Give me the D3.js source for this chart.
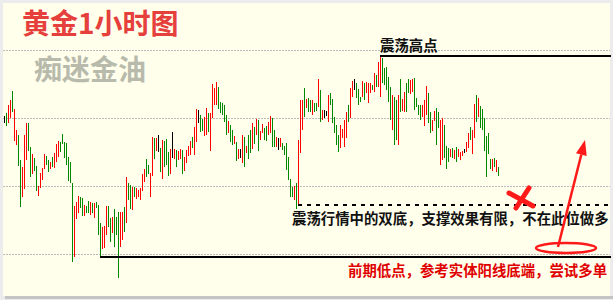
<!DOCTYPE html>
<html>
<head>
<meta charset="utf-8">
<script src="https://cdn.jsdelivr.net/npm/d3@7"></script>
<style>
  html, body { margin: 0; padding: 0; background: #ececec; }
  svg { display: block; }
  text { font-family: "Noto Sans CJK SC", "Noto Sans", sans-serif; }
</style>
</head>
<body>
<svg id="chart" width="613" height="300"></svg>
<script>
// 1h bars, high / low
var highs = [
  1293.4, 1293.7, 1294.5, 1295.0, 1295.9, 1294.1, 1292.0, 1291.5, 1289.0, 1288.3,
  1291.5, 1292.7, 1292.7, 1290.3, 1289.6, 1289.2, 1288.4, 1286.4, 1287.7, 1288.2,
  1289.6, 1289.4, 1289.0, 1288.8, 1289.3, 1289.7, 1290.6, 1290.9, 1290.8, 1291.6,
  1290.8, 1290.7, 1289.3, 1288.8, 1286.7, 1284.4, 1284.8, 1285.4, 1285.3, 1285.2,
  1284.5, 1284.4, 1284.9, 1284.8, 1284.7, 1284.7, 1284.8, 1284.5, 1282.7, 1282.3,
  1282.4, 1284.4, 1284.4, 1283.2, 1283.3, 1284.1, 1283.3, 1283.8, 1283.8, 1283.8,
  1284.3, 1287.3, 1286.7, 1286.5, 1286.3, 1286.3, 1286.2, 1286.0, 1286.2, 1287.6,
  1288.1, 1289.1, 1288.5, 1287.7, 1291.3, 1291.2, 1291.2, 1291.5, 1290.2, 1291.0,
  1290.9, 1291.1, 1289.8, 1290.1, 1291.8, 1290.1, 1290.0, 1289.9, 1290.1, 1290.0,
  1289.3, 1290.0, 1290.4, 1290.9, 1291.3, 1292.3, 1294.1, 1294.0, 1293.5, 1293.1,
  1293.3, 1294.2, 1293.7, 1293.7, 1296.6, 1296.2, 1296.8, 1296.3, 1294.8, 1294.7,
  1294.5, 1293.5, 1292.9, 1292.5, 1292.0, 1291.4, 1290.8, 1290.1, 1290.1, 1291.5,
  1291.3, 1290.4, 1291.5, 1292.0, 1292.7, 1292.3, 1293.1, 1293.0, 1291.9, 1292.6,
  1292.2, 1292.4, 1292.8, 1293.4, 1293.2, 1292.0, 1291.3, 1291.2, 1291.2, 1290.7,
  1290.4, 1290.7, 1289.3, 1287.1, 1286.3, 1286.4, 1286.7, 1291.0, 1295.0, 1295.0,
  1296.2, 1295.1, 1295.2, 1295.0, 1295.0, 1294.7, 1294.7, 1297.1, 1296.0, 1294.0,
  1294.0, 1293.9, 1295.5, 1295.7, 1295.1, 1293.3, 1292.5, 1291.5, 1292.5, 1292.1,
  1293.0, 1293.8, 1294.5, 1296.2, 1296.9, 1297.1, 1296.7, 1296.1, 1295.3, 1296.9,
  1296.7, 1296.8, 1296.7, 1296.7, 1296.5, 1297.7, 1297.5, 1298.8, 1299.5, 1299.2,
  1298.2, 1298.3, 1297.3, 1296.3, 1295.5, 1295.3, 1295.0, 1295.5, 1297.1, 1295.1,
  1295.8, 1296.7, 1297.1, 1297.0, 1297.1, 1297.2, 1295.2, 1294.5, 1294.5, 1294.5,
  1295.0, 1296.4, 1295.7, 1293.8, 1293.0, 1293.9, 1294.2, 1293.8, 1293.0, 1293.2,
  1292.5, 1290.4, 1290.2, 1290.1, 1290.2, 1290.0, 1290.3, 1290.1, 1289.8, 1289.9,
  1290.1, 1290.8, 1291.7, 1292.3, 1292.0, 1294.6, 1295.5, 1295.2, 1294.4, 1294.1,
  1293.2, 1291.4, 1291.7, 1289.1, 1289.1, 1289.2, 1289.0, 1288.3
]

var lows = [
  1292.7, 1292.4, 1292.7, 1293.2, 1293.8, 1290.9, 1290.5, 1288.4, 1284.3, 1285.3,
  1286.1, 1289.0, 1289.9, 1287.3, 1287.6, 1287.9, 1285.9, 1285.4, 1286.2, 1287.0,
  1288.1, 1288.5, 1287.8, 1288.1, 1288.3, 1288.2, 1288.8, 1289.3, 1289.8, 1290.6,
  1289.2, 1288.5, 1286.9, 1286.7, 1278.8, 1279.3, 1283.1, 1283.7, 1284.2, 1283.4,
  1283.4, 1283.7, 1283.7, 1283.5, 1283.7, 1283.2, 1284.2, 1281.5, 1279.3, 1280.1,
  1280.2, 1281.5, 1282.3, 1280.8, 1281.7, 1280.3, 1281.5, 1277.2, 1280.3, 1281.0,
  1281.8, 1282.7, 1285.0, 1284.1, 1284.0, 1285.3, 1285.1, 1285.3, 1285.0, 1285.9,
  1286.8, 1287.3, 1287.6, 1285.3, 1287.4, 1289.1, 1289.9, 1289.8, 1287.8, 1287.1,
  1288.3, 1288.5, 1287.4, 1287.6, 1289.2, 1289.1, 1288.3, 1289.0, 1289.1, 1287.6,
  1287.9, 1288.7, 1289.4, 1289.5, 1290.2, 1289.5, 1290.8, 1292.7, 1291.8, 1291.9,
  1291.4, 1291.5, 1291.8, 1289.9, 1293.2, 1294.5, 1294.5, 1294.1, 1293.7, 1293.5,
  1292.8, 1291.5, 1291.7, 1290.8, 1290.5, 1290.6, 1288.9, 1289.1, 1289.2, 1288.7,
  1288.3, 1289.7, 1289.1, 1289.7, 1290.1, 1290.6, 1291.5, 1289.9, 1291.0, 1291.7,
  1291.0, 1290.9, 1291.5, 1291.7, 1290.3, 1290.3, 1290.3, 1290.0, 1290.3, 1290.0,
  1289.5, 1288.0, 1287.0, 1285.3, 1285.3, 1285.0, 1284.1, 1284.4, 1289.7, 1292.0,
  1293.3, 1294.2, 1293.8, 1293.8, 1293.5, 1293.8, 1293.9, 1294.3, 1292.8, 1293.0,
  1293.2, 1293.4, 1292.8, 1294.5, 1292.7, 1291.7, 1290.5, 1289.8, 1290.2, 1291.2,
  1290.3, 1291.2, 1292.8, 1293.2, 1295.3, 1296.0, 1295.2, 1294.5, 1294.8, 1295.3,
  1295.0, 1295.7, 1294.7, 1295.7, 1296.0, 1295.8, 1296.3, 1296.3, 1295.3, 1296.7,
  1296.5, 1296.0, 1294.8, 1293.0, 1292.0, 1290.5, 1291.0, 1290.5, 1293.8, 1293.9,
  1293.8, 1293.8, 1295.7, 1295.6, 1295.8, 1294.0, 1294.3, 1293.5, 1293.0, 1293.3,
  1292.4, 1293.5, 1292.7, 1291.7, 1291.9, 1292.9, 1290.5, 1292.2, 1288.5, 1289.0,
  1289.2, 1288.1, 1288.8, 1289.3, 1289.2, 1289.1, 1288.8, 1289.3, 1289.0, 1289.4,
  1289.7, 1289.8, 1290.2, 1291.0, 1289.6, 1291.2, 1292.8, 1293.3, 1292.2, 1292.0,
  1289.9, 1287.3, 1289.6, 1288.1, 1287.9, 1288.3, 1287.8, 1287.4
]

// u = up bar (red), d = down bar (green), n = doji (black)
var dirs = (
  'nduuduuddu' + 'uuddudduuu' + 'udduduuudd' + 'ddddduuudd' + 'uddududddu' +
  'uudduddduu' + 'dudduduuuu' + 'udduudundu' + 'dddunuduud' + 'uuuuduundd' +
  'uuduuuuddd' + 'dduddudunu' + 'duddududuu' + 'dduuddunud' + 'ddddduduuu' +
  'dudduddudu' + 'nnuddddduu' + 'uuduundddu' + 'duuududuud' + 'dddduddudu' +
  'udduuddddu' + 'uudduudduu' + 'dddududuuu' + 'nuuduududd' + 'ddddudud'
).split('')

var gridLevels = [1300.0, 1293.2, 1286.4, 1279.6]

// support / resistance levels: [price, first bar]
var levelHigh = [1299.4, 188]
var levelLow = [1279.3, 48]
var levelDouble = [1284.5, 147]

var titleText = '黄金1小时图'
var brandText = '痴迷金油'
var highNote = '震荡高点'
var doubleNote = '震荡行情中的双底，支撑效果有限，不在此位做多'
var lowNote = '前期低点，参考实体阳线底端，尝试多单'

var width = 613, height = 300
var svg = d3.select('#chart')

var x = d3.scaleLinear().domain([0, highs.length - 1]).range([4, 498])
var y = d3.scaleLinear().domain([1305, 1275]).range([0, 300])
var color = d3.scaleOrdinal().domain(['u', 'd', 'n']).range(['#ff0000', '#008800', '#000000'])

// frame
svg.append('rect').attr('x', 0).attr('y', 0).attr('width', width).attr('height', height).attr('fill', '#ececec')
svg.append('rect').attr('x', 5).attr('y', 296).attr('width', width - 5).attr('height', 3).attr('fill', '#c4c4c4')
svg.append('rect').attr('x', 3).attr('y', 3).attr('width', 607).attr('height', 293).attr('fill', '#ffffec')

svg.selectAll('.grid')
  .data(gridLevels)
  .enter().append('line')
  .attr('class', 'grid')
  .attr('x1', 3).attr('x2', 610)
  .attr('y1', function(d) { return Math.round(y(d)) + 0.5 })
  .attr('y2', function(d) { return Math.round(y(d)) + 0.5 })
  .attr('stroke', '#bcbcbc')
  .attr('stroke-dasharray', '2,1')

// bars
var bars = d3.range(highs.length)
svg.selectAll('.bar')
  .data(bars)
  .enter().append('rect')
  .attr('class', 'bar')
  .attr('shape-rendering', 'crispEdges')
  .attr('x', function(i) { return Math.round(x(i)) })
  .attr('y', function(i) { return Math.round(y(highs[i])) })
  .attr('width', 1)
  .attr('height', function(i) { return Math.max(1, Math.round(y(lows[i]) - y(highs[i]))) })
  .attr('fill', function(i) { return color(dirs[i]) })

// level lines
function level(l, dash) {
  var ly = Math.round(y(l[0]))
  var line = svg.append('line')
    .attr('x1', Math.round(x(l[1]))).attr('x2', 611)
    .attr('y1', ly).attr('y2', ly)
    .attr('stroke', '#000')
    .attr('stroke-width', 2)
  if (dash) line.attr('stroke-dasharray', dash)
}
level(levelHigh)
level(levelLow)
level(levelDouble, '4,5')

// texts
svg.append('text').attr('x', 22).attr('y', 34)
  .attr('font-size', 28).attr('font-weight', 'bold').attr('fill', '#e5403c')
  .text(titleText)
svg.append('text').attr('x', 34).attr('y', 80)
  .attr('font-size', 28).attr('font-weight', 'bold').attr('fill', '#b8bbac')
  .text(brandText)
svg.append('text').attr('x', 380).attr('y', 51)
  .attr('font-size', 14.4).attr('font-weight', 'bold').attr('fill', '#111')
  .text(highNote)
svg.append('text').attr('x', 292).attr('y', 224)
  .attr('font-size', 14.4).attr('font-weight', 'bold').attr('fill', '#111')
  .text(doubleNote)
svg.append('text').attr('x', 348).attr('y', 276)
  .attr('font-size', 14.4).attr('font-weight', 'bold').attr('fill', '#e00000')
  .text(lowNote)

// red marks: cross, ellipse and arrow
var red = '#ff1a1a'
var cross = svg.append('g').attr('stroke', red).attr('stroke-width', 5).attr('stroke-linecap', 'round')
cross.append('line').attr('x1', 509).attr('y1', 193).attr('x2', 533).attr('y2', 206)
cross.append('line').attr('x1', 529).attr('y1', 188).attr('x2', 516).attr('y2', 208)

svg.append('ellipse').attr('cx', 566).attr('cy', 248).attr('rx', 30).attr('ry', 5)
  .attr('fill', 'none').attr('stroke', red).attr('stroke-width', 2.5)

var ax0 = 558, ay0 = 247, ax1 = 585, ay1 = 140
var len = Math.hypot(ax1 - ax0, ay1 - ay0)
var ux = (ax1 - ax0) / len, uy = (ay1 - ay0) / len
var bx = ax1 - 15 * ux, by = ay1 - 15 * uy
svg.append('line').attr('x1', ax0).attr('y1', ay0).attr('x2', bx).attr('y2', by)
  .attr('stroke', red).attr('stroke-width', 2.5)
svg.append('path')
  .attr('d', 'M' + ax1 + ',' + ay1 + 'L' + (bx - 5.5 * uy) + ',' + (by + 5.5 * ux) + 'L' + (bx + 5.5 * uy) + ',' + (by - 5.5 * ux) + 'Z')
  .attr('fill', red)
</script>
</body>
</html>
